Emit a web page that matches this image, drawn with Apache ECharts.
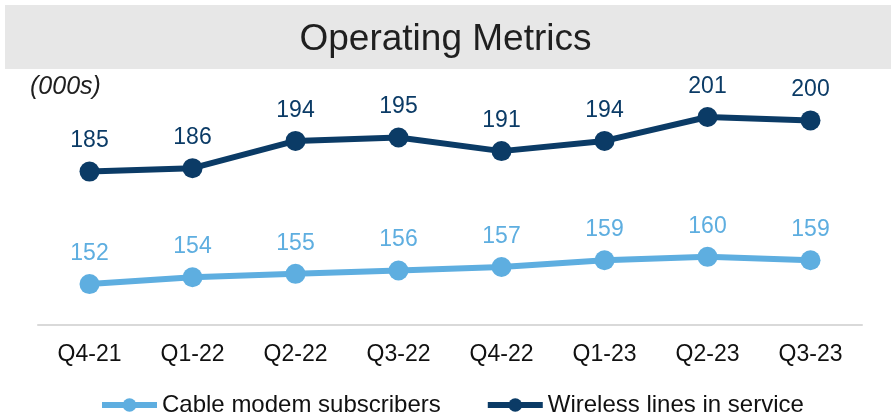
<!DOCTYPE html>
<html><head><meta charset="utf-8">
<script src="https://cdn.jsdelivr.net/npm/echarts@6/dist/echarts.min.js"></script>
<style>html,body{margin:0;padding:0;background:#fff}#c{width:891px;height:414px}</style>
</head><body><div id="c"></div>
<script>
const categories = ['Q4-21','Q1-22','Q2-22','Q3-22','Q4-22','Q1-23','Q2-23','Q3-23'];
const cableModem = [152,154,155,156,157,159,160,159];
const wirelessLines = [185,186,194,195,191,194,201,200];
const seriesNames = ['Cable modem subscribers','Wireless lines in service'];
const lightColor = '#5eaee0';
const darkColor = '#0b3b66';
const font = 'Liberation Sans, Arial, sans-serif';

const chart = echarts.init(document.getElementById('c'), null, {renderer:'canvas'});
function lineSeries(name, data, color){
  return {
    name, type:'line', data, symbol:'circle', symbolSize:20,
    lineStyle:{width:6,color}, itemStyle:{color},
    label:{show:true, position:'top', distance:9, color, fontSize:23, fontFamily:font},
    z: 3
  };
}
chart.setOption({
  animation:false,
  graphic:[
    {type:'rect', left:5, top:5, shape:{width:886, height:64}, style:{fill:'#e7e7e7'}, z:-1},
    {type:'text', left:'center', top:21, style:{text:'Operating Metrics', font:'37px '+font, fill:'#1f1f1f'}},
    {type:'text', left:30, top:75, style:{text:'(000s)', font:'italic 25px '+font, fill:'#1f1f1f'}}
  ],
  grid:{left:38, right:29, top:71, bottom:89},
  xAxis:{type:'category', data:categories, boundaryGap:true,
    axisLine:{lineStyle:{color:'#d9d9d9', width:2}}, axisTick:{show:false},
    axisLabel:{color:'#111', fontSize:23, fontFamily:font, margin:18}},
  yAxis:{type:'value', min:140, max:214.5, show:false, splitLine:{show:false}},
  legend:{top:393, left:99, padding:0, itemWidth:55, itemHeight:17, itemGap:44,
    lineStyle:{width:6},
    textStyle:{color:'#111', fontSize:24, fontFamily:font},
    data:seriesNames},
  series:[lineSeries(seriesNames[0], cableModem, lightColor), lineSeries(seriesNames[1], wirelessLines, darkColor)]
});
</script></body></html>
